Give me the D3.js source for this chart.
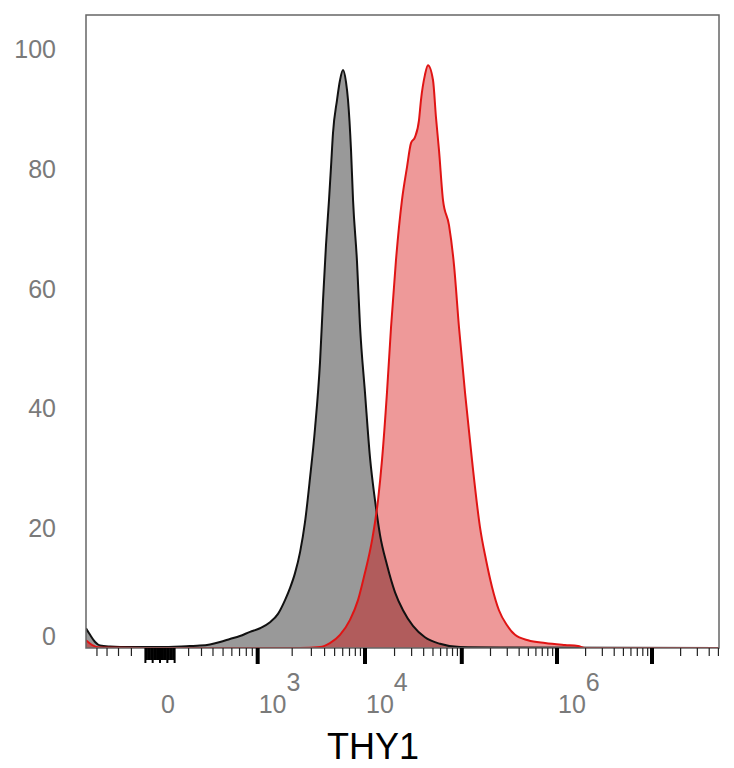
<!DOCTYPE html>
<html>
<head>
<meta charset="utf-8">
<script src="https://cdn.jsdelivr.net/npm/d3@7"></script>
<style>
  body { margin: 0; background: #fff; }
  text { font-family: "Liberation Sans", Arial, sans-serif; }
</style>
</head>
<body>
<script>
// histogram data: fluorescence value (THY1) and % of max
let controlX = [-627, -577, -520, -468, -372, -209, 0, 209, 287, 372, 468, 577, 705, 860, 1047, 1276, 1497, 1726, 1911, 2121,
                2358, 2617, 2914, 3247, 3618, 3866, 4127, 4411, 4611, 4822, 5275, 5643, 6036, 6466, 6767, 7250, 7590, 8320,
                8902, 10002, 11248, 12620, 14194, 16715, 20230, 24446, 30985, 41254, 59128, 95780, 251700, 5.07e7];
let controlY = [3.3, 2.2, 1.0, 0.4, 0.25, 0.15, 0.15, 0.33, 0.4, 0.6, 1.0, 1.5, 2.0, 2.7, 3.3, 4.3, 5.7, 8.0, 10.0, 12.5,
                16.0, 21.0, 28.4, 36.7, 47.7, 58.1, 67.3, 74.8, 80.3, 86.0, 91.5, 94.8, 96.5, 94.5, 91.5, 83.1, 74.8, 64.4,
                53.9, 42.6, 31.7, 24.7, 18.9, 13.9, 9.3, 6.3, 3.7, 1.8, 0.7, 0.15, 0.08, 0];

let thy1X = [-627, -554, -468, 0, 2358, 3618, 4505, 5643, 7080, 8505, 9765, 11786, 13553, 14880, 16715, 18406, 20693, 23846,
             26873, 29552, 32508, 35753, 37503, 41254, 44374, 50056, 53735, 57799, 63616, 73480, 82950, 93426, 108170,
             127880, 155080, 179580, 207460, 245380, 298300, 361930, 495900, 748600, 1213600, 1663500, 1972400, 5.07e7];
let thy1Y = [1.3, 0.5, 0.08, 0, 0, 0.17, 0.83, 2.2, 4.7, 8.0, 11.9, 18.0, 24.7, 31.4, 42.6, 53.6, 64.8, 74.8,
             80.3, 84.3, 85.3, 88.1, 91.5, 95.7, 97.3, 94.8, 88.6, 83.1, 74.8, 70.6, 63.9, 53.6, 42.6,
             31.4, 20.2, 14.7, 10.2, 6.3, 3.8, 2.2, 1.3, 0.83, 0.5, 0.33, 0, 0];

let yTicks = [0, 20, 40, 60, 80, 100];
let majorTicks = [1e3, 1e4, 1e5, 1e6, 1e7];
let xLabels = [{v: 0, base: '0', exp: ''}, {v: 1e3, base: '10', exp: '3'},
               {v: 1e4, base: '10', exp: '4'}, {v: 1e6, base: '10', exp: '6'}];
let axisTitle = 'THY1';

// logicle (biexponential) transform, display in decades
let T = 5.07e7, M = 6.663, W = 0.779;
function solveP(w) {
  let lo = 1.0001, hi = 100;
  for (let i = 0; i < 80; i++) {
    let mid = (lo + hi) / 2;
    let ww = 2 * mid * Math.log10(mid) / (mid + 1);
    if (ww > w) hi = mid; else lo = mid;
  }
  return (lo + hi) / 2;
}
let P = solveP(W);
let K = T * Math.pow(10, -(M - W));
function biex(y) { // decades -> data value
  let d = y - W, s = d < 0 ? -1 : 1, a = Math.abs(d);
  return s * K * (Math.pow(10, a) - P * P * Math.pow(10, -a / P) + P * P - 1);
}
function logicle(v) { // data value -> decades
  let lo = -1, hi = M + 1;
  for (let i = 0; i < 60; i++) {
    let mid = (lo + hi) / 2;
    if (biex(mid) < v) lo = mid; else hi = mid;
  }
  return (lo + hi) / 2;
}

let margin = {top: 15, right: 15, bottom: 120, left: 86};
let svgWidth = 734, svgHeight = 768;
let plotW = svgWidth - margin.left - margin.right;
let plotH = svgHeight - margin.top - margin.bottom;

let svg = d3.select('body').append('svg')
  .attr('width', svgWidth)
  .attr('height', svgHeight);

let canvas = svg.append('g')
  .attr('transform', 'translate(' + margin.left + ',' + margin.top + ')');

let xScale = d3.scaleLinear().domain([0, M]).range([0, plotW]);
let yScale = d3.scaleLinear().domain([0, 105.7]).range([plotH, 0]);
let xPos = v => xScale(logicle(v));

canvas.append('clipPath').attr('id', 'clip')
  .append('rect').attr('width', plotW).attr('height', plotH);

let control = controlX.map((x, i) => ({x: x, y: controlY[i]}));
let thy1 = thy1X.map((x, i) => ({x: x, y: thy1Y[i]}));

let area = d3.area().x(d => xPos(d.x)).y0(yScale(0)).y1(d => yScale(d.y)).curve(d3.curveMonotoneX);
let line = d3.line().x(d => xPos(d.x)).y(d => yScale(d.y)).curve(d3.curveMonotoneX);

let plot = canvas.append('g').attr('clip-path', 'url(#clip)');
plot.append('path').datum(control).attr('d', area).attr('fill', '#999999');
plot.append('path').datum(thy1).attr('d', area).attr('fill', 'rgba(212,0,0,0.4)');
plot.append('path').datum(control).attr('d', line).attr('fill', 'none')
  .attr('stroke', '#111').attr('stroke-width', 2).attr('stroke-linejoin', 'round');
plot.append('path').datum(thy1).attr('d', line).attr('fill', 'none')
  .attr('stroke', '#e01414').attr('stroke-width', 2).attr('stroke-linejoin', 'round');

// frame
canvas.append('rect')
  .attr('width', plotW).attr('height', plotH)
  .attr('fill', 'none').attr('stroke', '#666').attr('stroke-width', 1.5);

// x ticks
let minorTicks = [-500, -400, -300, -200];
for (let v = 200; v < 1000; v += 100) minorTicks.push(v);
for (let e = 3; e <= 7; e++) {
  for (let k = 2; k <= 9; k++) {
    let v = k * Math.pow(10, e);
    if (v < T) minorTicks.push(v);
  }
}
let zeroTicks = d3.range(-100, 101, 10);

let ticks = canvas.append('g').attr('transform', 'translate(0,' + plotH + ')');
ticks.selectAll('line.minor').data(minorTicks).enter().append('line')
  .attr('class', 'minor')
  .attr('x1', d => xPos(d)).attr('x2', d => xPos(d))
  .attr('y1', 0).attr('y2', 8)
  .attr('stroke', '#222').attr('stroke-width', 1.2);
ticks.selectAll('line.zero').data(zeroTicks).enter().append('line')
  .attr('class', 'zero')
  .attr('x1', d => xPos(d)).attr('x2', d => xPos(d))
  .attr('y1', 0).attr('y2', d => (d % 50 === 0 ? 15 : 12))
  .attr('stroke', '#000').attr('stroke-width', 2);
ticks.selectAll('line.major').data(majorTicks).enter().append('line')
  .attr('class', 'major')
  .attr('x1', d => xPos(d)).attr('x2', d => xPos(d))
  .attr('y1', 0).attr('y2', 16)
  .attr('stroke', '#000').attr('stroke-width', 4);

// x labels
let xl = ticks.selectAll('text.xl').data(xLabels).enter().append('text')
  .attr('class', 'xl')
  .attr('x', d => xPos(d.v) + 1)
  .attr('y', 65)
  .attr('font-size', 25)
  .attr('fill', '#7a7a7a');
xl.append('tspan').text(d => d.base);
xl.append('tspan').attr('dy', -22).text(d => d.exp);

// y labels
canvas.selectAll('text.yl').data(yTicks).enter().append('text')
  .attr('class', 'yl')
  .attr('x', -30)
  .attr('y', d => yScale(d) + (d === 0 ? -3 : 9))
  .attr('text-anchor', 'end')
  .attr('font-size', 25)
  .attr('fill', '#7a7a7a')
  .text(d => d);

// axis title
svg.append('text')
  .attr('x', 373).attr('y', 759)
  .attr('text-anchor', 'middle')
  .attr('font-size', 36)
  .attr('fill', '#000')
  .text(axisTitle);
</script>
</body>
</html>
